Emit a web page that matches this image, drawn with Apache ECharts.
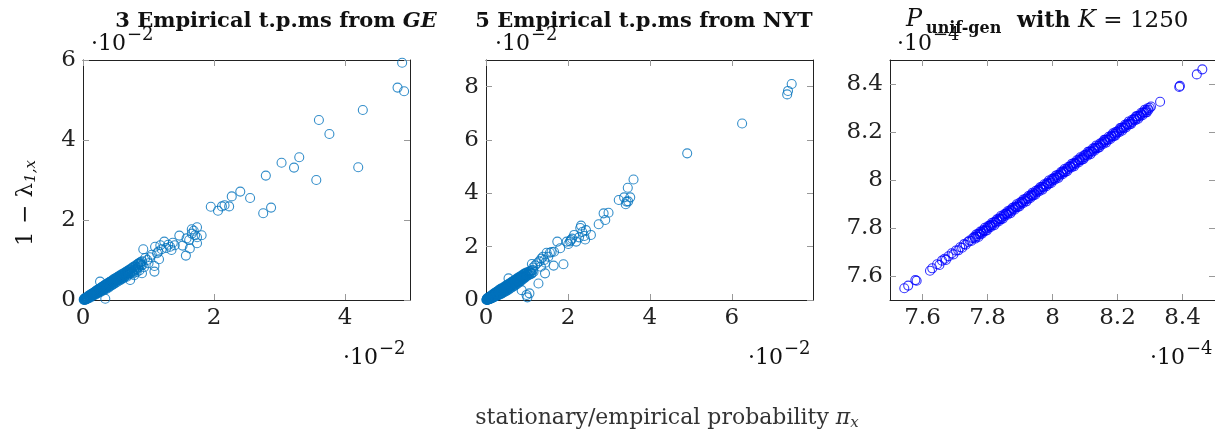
<!DOCTYPE html>
<html>
<head>
<meta charset="utf-8">
<script src="https://cdn.jsdelivr.net/npm/echarts@6/dist/echarts.min.js"></script>
<style>
  html, body { margin: 0; padding: 0; background: #fff; }
  #chart { width: 1215px; height: 431px; }
</style>
</head>
<body>
<div id="chart"></div>
<script>
// values, x and y in units of 10^-2 (GE, NYT) and 10^-4 (unif-gen)
const gePoints = [
  [4.87, 5.93], [4.80, 5.31], [4.90, 5.22], [4.27, 4.75], [3.60, 4.50], [3.76, 4.15],
  [4.20, 3.32], [3.56, 3.00], [3.30, 3.57], [3.22, 3.31], [3.03, 3.43], [2.79, 3.11],
  [2.87, 2.31], [2.75, 2.17], [2.55, 2.55], [2.40, 2.71], [2.27, 2.59], [2.23, 2.34],
  [2.16, 2.37], [2.12, 2.34], [2.06, 2.23], [1.95, 2.33], [1.81, 1.62], [1.74, 1.82],
  [1.66, 1.77], [1.71, 1.62], [1.74, 1.57], [1.74, 1.42], [1.63, 1.29], [1.57, 1.11],
  [1.58, 1.54], [1.47, 1.61], [1.40, 1.37], [1.37, 1.43], [1.35, 1.25], [1.24, 1.46],
  [1.18, 1.37], [1.10, 1.33], [1.15, 1.21], [1.09, 0.85], [1.09, 0.71], [1.02, 1.07],
  [0.92, 1.27], [0.98, 1.00], [0.90, 0.67], [0.85, 0.92], [1.30, 1.38], [1.27, 1.30],
  [1.20, 1.27], [1.13, 1.17], [1.05, 1.13], [1.00, 0.92], [0.95, 1.05], [0.88, 0.95],
  [0.93, 0.82], [1.16, 1.02], [1.66, 1.66], [1.69, 1.73], [1.52, 1.36], [1.33, 1.33],
  [1.62, 1.50], [0.72, 0.50], [0.78, 0.62], [0.82, 0.70]
];
const geBand = [
  [0.01, 0.01], [0.02, 0.00], [0.02, 0.03], [0.03, 0.02], [0.04, 0.01], [0.04, 0.04],
  [0.05, 0.06], [0.06, 0.03], [0.06, 0.05], [0.07, 0.08], [0.08, 0.05], [0.08, 0.10],
  [0.09, 0.07], [0.10, 0.12], [0.10, 0.08], [0.11, 0.10], [0.12, 0.14], [0.12, 0.09],
  [0.13, 0.12], [0.14, 0.16], [0.14, 0.11], [0.15, 0.14], [0.16, 0.18], [0.16, 0.13],
  [0.17, 0.16], [0.18, 0.20], [0.18, 0.14], [0.19, 0.18], [0.20, 0.23], [0.20, 0.16],
  [0.21, 0.20], [0.22, 0.25], [0.22, 0.18], [0.23, 0.22], [0.24, 0.27], [0.24, 0.20],
  [0.25, 0.24], [0.26, 0.46], [0.26, 0.29], [0.26, 0.22], [0.27, 0.26], [0.28, 0.31],
  [0.28, 0.23], [0.29, 0.28], [0.30, 0.33], [0.30, 0.25], [0.31, 0.30], [0.32, 0.36],
  [0.32, 0.27], [0.33, 0.32], [0.34, 0.03], [0.34, 0.38], [0.34, 0.29], [0.35, 0.34],
  [0.36, 0.40], [0.36, 0.31], [0.37, 0.36], [0.38, 0.42], [0.38, 0.33], [0.39, 0.38],
  [0.40, 0.44], [0.40, 0.34], [0.42, 0.46], [0.42, 0.40], [0.43, 0.36], [0.44, 0.48],
  [0.45, 0.43], [0.46, 0.39], [0.46, 0.51], [0.48, 0.46], [0.48, 0.53], [0.49, 0.42],
  [0.50, 0.55], [0.51, 0.49], [0.52, 0.45], [0.53, 0.58], [0.54, 0.52], [0.55, 0.48],
  [0.56, 0.61], [0.57, 0.55], [0.58, 0.51], [0.59, 0.64], [0.60, 0.58], [0.62, 0.67],
  [0.62, 0.55], [0.63, 0.61], [0.65, 0.70], [0.66, 0.64], [0.67, 0.58], [0.68, 0.73],
  [0.69, 0.67], [0.71, 0.76], [0.72, 0.70], [0.74, 0.79], [0.75, 0.72], [0.76, 0.66],
  [0.77, 0.83], [0.78, 0.76], [0.80, 0.86], [0.81, 0.78], [0.83, 0.89], [0.84, 0.81],
  [0.86, 0.74], [0.87, 0.93], [0.89, 0.86],
  [0.03, 0.05], [0.05, 0.02], [0.07, 0.03], [0.09, 0.11], [0.11, 0.06], [0.13, 0.15],
  [0.15, 0.10], [0.17, 0.19], [0.19, 0.13], [0.21, 0.24], [0.23, 0.17], [0.25, 0.28],
  [0.27, 0.20], [0.29, 0.33], [0.31, 0.24], [0.33, 0.37], [0.35, 0.27], [0.37, 0.41],
  [0.39, 0.31], [0.41, 0.45], [0.43, 0.44], [0.44, 0.38], [0.47, 0.50], [0.47, 0.41],
  [0.50, 0.47], [0.52, 0.56], [0.53, 0.50], [0.55, 0.59], [0.57, 0.52], [0.58, 0.62],
  [0.60, 0.54], [0.61, 0.65], [0.63, 0.57], [0.64, 0.68], [0.66, 0.60], [0.67, 0.71],
  [0.69, 0.63], [0.70, 0.74], [0.72, 0.66], [0.73, 0.77], [0.75, 0.69], [0.76, 0.81],
  [0.79, 0.73], [0.80, 0.83], [0.82, 0.76], [0.84, 0.90], [0.85, 0.83], [0.88, 0.90],
  [0.90, 0.97], [0.91, 0.88]
];
const geCore = [
  [0.015, 0.02], [0.025, 0.01], [0.035, 0.04], [0.045, 0.03], [0.055, 0.04], [0.065, 0.07],
  [0.075, 0.06], [0.085, 0.08], [0.095, 0.09], [0.105, 0.10], [0.115, 0.12], [0.125, 0.11],
  [0.135, 0.13], [0.145, 0.14], [0.155, 0.16], [0.165, 0.15], [0.175, 0.17], [0.185, 0.19],
  [0.195, 0.20], [0.205, 0.19], [0.215, 0.22], [0.225, 0.21], [0.235, 0.24], [0.245, 0.23],
  [0.255, 0.26], [0.265, 0.25], [0.275, 0.28], [0.285, 0.27], [0.295, 0.30], [0.305, 0.29],
  [0.315, 0.32], [0.325, 0.31], [0.335, 0.34], [0.345, 0.33], [0.355, 0.36], [0.365, 0.35],
  [0.375, 0.38], [0.385, 0.37], [0.395, 0.40], [0.405, 0.39], [0.415, 0.42], [0.425, 0.41],
  [0.435, 0.44], [0.445, 0.43], [0.455, 0.46], [0.465, 0.45], [0.475, 0.48], [0.485, 0.47],
  [0.495, 0.50], [0.505, 0.49], [0.515, 0.52], [0.525, 0.51], [0.535, 0.54], [0.545, 0.53],
  [0.555, 0.56], [0.565, 0.55], [0.575, 0.58], [0.585, 0.57], [0.595, 0.60], [0.61, 0.60],
  [0.625, 0.63], [0.64, 0.62], [0.655, 0.66], [0.67, 0.65], [0.685, 0.69], [0.70, 0.70]
];
const nytPoints = [
  [7.46, 8.10], [7.37, 7.84], [7.35, 7.71], [6.25, 6.62], [4.91, 5.50], [3.60, 4.52],
  [3.46, 4.21], [3.52, 3.85], [3.37, 3.85], [3.24, 3.75], [3.41, 3.59], [3.43, 3.69],
  [2.99, 3.27], [2.87, 3.25], [2.91, 3.00], [2.75, 2.84], [2.56, 2.44], [2.44, 2.62],
  [2.32, 2.79], [2.42, 2.27], [2.40, 2.40], [2.20, 2.19], [2.15, 2.44], [2.07, 2.25],
  [2.01, 2.10], [1.97, 2.19], [1.74, 2.19], [1.89, 1.34], [1.81, 1.94], [1.66, 1.81],
  [1.56, 1.77], [1.48, 1.77], [1.65, 1.29], [1.42, 1.50], [1.39, 1.62], [1.44, 1.00],
  [1.34, 1.25], [1.28, 0.62], [1.12, 1.35], [1.06, 0.25], [1.01, 0.10], [0.87, 0.37],
  [0.99, 0.19], [0.55, 0.81], [1.20, 1.30], [1.25, 1.38], [1.15, 1.22], [1.30, 1.45],
  [1.35, 1.55], [1.45, 1.40], [1.52, 1.62], [1.60, 1.80], [2.30, 2.70], [2.35, 2.55],
  [2.27, 2.35], [2.10, 2.30], [3.47, 3.70], [2.05, 2.20]
];
const nytBand = [
  [0.01, 0.01], [0.02, 0.02], [0.03, 0.00], [0.03, 0.04], [0.04, 0.02], [0.05, 0.05],
  [0.06, 0.03], [0.06, 0.08], [0.07, 0.05], [0.08, 0.10], [0.09, 0.06], [0.10, 0.12],
  [0.10, 0.04], [0.11, 0.09], [0.12, 0.15], [0.13, 0.07], [0.14, 0.12], [0.15, 0.18],
  [0.16, 0.09], [0.17, 0.14], [0.18, 0.21], [0.19, 0.11], [0.20, 0.17], [0.21, 0.24],
  [0.22, 0.13], [0.23, 0.19], [0.24, 0.27], [0.25, 0.15], [0.26, 0.22], [0.27, 0.30],
  [0.28, 0.17], [0.29, 0.25], [0.30, 0.33], [0.31, 0.19], [0.32, 0.28], [0.33, 0.36],
  [0.34, 0.21], [0.35, 0.30], [0.36, 0.39], [0.37, 0.23], [0.38, 0.33], [0.39, 0.42],
  [0.40, 0.26], [0.41, 0.36], [0.42, 0.45], [0.44, 0.29], [0.45, 0.39], [0.46, 0.49],
  [0.48, 0.32], [0.49, 0.43], [0.50, 0.53], [0.52, 0.36], [0.53, 0.47], [0.54, 0.57],
  [0.56, 0.40], [0.57, 0.51], [0.58, 0.61], [0.60, 0.44], [0.61, 0.55], [0.62, 0.65],
  [0.64, 0.48], [0.65, 0.59], [0.66, 0.69], [0.68, 0.52], [0.69, 0.63], [0.70, 0.73],
  [0.72, 0.56], [0.73, 0.67], [0.74, 0.77], [0.76, 0.60], [0.77, 0.71], [0.78, 0.81],
  [0.80, 0.65], [0.81, 0.75], [0.82, 0.85], [0.84, 0.70], [0.85, 0.79], [0.86, 0.89],
  [0.88, 0.75], [0.89, 0.84], [0.90, 0.93], [0.92, 0.80], [0.93, 0.88], [0.94, 0.97],
  [0.96, 0.85], [0.97, 0.92], [0.98, 1.01], [1.00, 0.90], [1.02, 0.98], [1.04, 1.05],
  [1.06, 0.95], [1.08, 1.03], [1.10, 1.10], [1.12, 1.00],
  [0.02, 0.05], [0.04, 0.07], [0.05, 0.01], [0.07, 0.10], [0.08, 0.03], [0.09, 0.13],
  [0.11, 0.05], [0.12, 0.12], [0.14, 0.18], [0.15, 0.08], [0.17, 0.21], [0.18, 0.10],
  [0.20, 0.25], [0.21, 0.13], [0.23, 0.28], [0.24, 0.16], [0.26, 0.31], [0.27, 0.18],
  [0.29, 0.34], [0.30, 0.21], [0.32, 0.38], [0.33, 0.24], [0.35, 0.41], [0.36, 0.27],
  [0.38, 0.44], [0.40, 0.31], [0.42, 0.39], [0.43, 0.48], [0.45, 0.33], [0.47, 0.52],
  [0.48, 0.40], [0.50, 0.37], [0.51, 0.56], [0.53, 0.42], [0.55, 0.60], [0.56, 0.46],
  [0.59, 0.64], [0.60, 0.50], [0.63, 0.68], [0.64, 0.54], [0.67, 0.72], [0.68, 0.58],
  [0.71, 0.76], [0.72, 0.62], [0.75, 0.80], [0.76, 0.66], [0.79, 0.84], [0.80, 0.70],
  [0.83, 0.88], [0.84, 0.74], [0.87, 0.92], [0.88, 0.79], [0.91, 0.96], [0.92, 0.84],
  [0.95, 1.00], [0.97, 0.88], [1.00, 1.04], [1.03, 0.93], [1.07, 1.08], [1.10, 0.98],
  [1.14, 1.12], [1.16, 1.05]
];
const nytCore = [
  [0.015, 0.01], [0.025, 0.03], [0.035, 0.02], [0.045, 0.04], [0.055, 0.03], [0.065, 0.06],
  [0.075, 0.07], [0.085, 0.06], [0.095, 0.09], [0.105, 0.08], [0.115, 0.11], [0.125, 0.10],
  [0.135, 0.13], [0.145, 0.11], [0.155, 0.14], [0.165, 0.13], [0.175, 0.16], [0.185, 0.15],
  [0.195, 0.18], [0.205, 0.16], [0.215, 0.19], [0.225, 0.18], [0.235, 0.21], [0.245, 0.20],
  [0.255, 0.23], [0.265, 0.21], [0.275, 0.25], [0.285, 0.23], [0.295, 0.27], [0.305, 0.25],
  [0.315, 0.29], [0.325, 0.27], [0.335, 0.30], [0.345, 0.28], [0.355, 0.32], [0.365, 0.30],
  [0.375, 0.34], [0.385, 0.32], [0.395, 0.36], [0.405, 0.34], [0.415, 0.38], [0.425, 0.36],
  [0.435, 0.40], [0.445, 0.38], [0.455, 0.42], [0.465, 0.40], [0.475, 0.44], [0.49, 0.45],
  [0.51, 0.47], [0.53, 0.49], [0.55, 0.51], [0.57, 0.53], [0.59, 0.55], [0.61, 0.57],
  [0.63, 0.59], [0.65, 0.61], [0.67, 0.63], [0.69, 0.66], [0.71, 0.68], [0.73, 0.70],
  [0.75, 0.72], [0.77, 0.74], [0.79, 0.76], [0.81, 0.78], [0.83, 0.80], [0.85, 0.82],
  [0.87, 0.84], [0.89, 0.86], [0.91, 0.88], [0.93, 0.90], [0.95, 0.92]
];
// unif-gen: the sparse ends of the line
const unifEnds = [
  [7.544, 7.549], [7.556, 7.560], [7.578, 7.583], [7.582, 7.580], [7.623, 7.622], [7.630, 7.632],
  [7.645, 7.649], [7.652, 7.646], [7.660, 7.664], [7.668, 7.672], [7.672, 7.667], [7.680, 7.682],
  [7.690, 7.695], [7.695, 7.690], [7.703, 7.706], [7.710, 7.707], [7.716, 7.720], [7.722, 7.718],
  [7.728, 7.733], [7.733, 7.730], [7.740, 7.742], [7.745, 7.748], [7.750, 7.746], [7.755, 7.758],
  [8.303, 8.306], [8.331, 8.326], [8.392, 8.392], [8.390, 8.388], [8.444, 8.440], [8.461, 8.461]
];
// unif-gen: the dense thick band in the middle
const unifBand = [
  [7.760, 7.763], [7.762, 7.756], [7.765, 7.773], [7.766, 7.765], [7.770, 7.775], [7.772, 7.763],
  [7.775, 7.777], [7.777, 7.773], [7.778, 7.785], [7.781, 7.781], [7.783, 7.776], [7.787, 7.791],
  [7.789, 7.787], [7.792, 7.801], [7.794, 7.789], [7.797, 7.798], [7.798, 7.790], [7.802, 7.808],
  [7.804, 7.801], [7.807, 7.809], [7.809, 7.812], [7.810, 7.804], [7.813, 7.821], [7.815, 7.814],
  [7.819, 7.824], [7.821, 7.812], [7.824, 7.826], [7.826, 7.822], [7.829, 7.836], [7.830, 7.830],
  [7.834, 7.827], [7.836, 7.840], [7.839, 7.837], [7.841, 7.850], [7.842, 7.837], [7.845, 7.846],
  [7.847, 7.839], [7.851, 7.857], [7.853, 7.850], [7.856, 7.858], [7.858, 7.861], [7.861, 7.855],
  [7.862, 7.870], [7.866, 7.865], [7.868, 7.873], [7.871, 7.862], [7.873, 7.875], [7.874, 7.870],
  [7.877, 7.884], [7.879, 7.879], [7.883, 7.876], [7.885, 7.889], [7.888, 7.886], [7.890, 7.899],
  [7.893, 7.888], [7.894, 7.895], [7.898, 7.890], [7.900, 7.906], [7.903, 7.900], [7.905, 7.907],
  [7.906, 7.909], [7.909, 7.903], [7.911, 7.919], [7.915, 7.914], [7.917, 7.922], [7.920, 7.911],
  [7.922, 7.924], [7.925, 7.921], [7.926, 7.933], [7.930, 7.930], [7.932, 7.925], [7.935, 7.939],
  [7.937, 7.935], [7.938, 7.947], [7.941, 7.936], [7.943, 7.944], [7.947, 7.939], [7.949, 7.955],
  [7.952, 7.949], [7.954, 7.956], [7.957, 7.960], [7.958, 7.952], [7.962, 7.970], [7.964, 7.963],
  [7.967, 7.972], [7.969, 7.960], [7.970, 7.972], [7.973, 7.969], [7.975, 7.982], [7.979, 7.979],
  [7.981, 7.974], [7.984, 7.988], [7.986, 7.984], [7.989, 7.998], [7.990, 7.985], [7.994, 7.995],
  [7.996, 7.988], [7.999, 8.005], [8.001, 7.998], [8.002, 8.004], [8.005, 8.008], [8.007, 8.001],
  [8.011, 8.019], [8.013, 8.012], [8.016, 8.021], [8.018, 8.009], [8.021, 8.023], [8.022, 8.018],
  [8.026, 8.033], [8.028, 8.028], [8.031, 8.024], [8.033, 8.037], [8.034, 8.032], [8.037, 8.046],
  [8.039, 8.034], [8.043, 8.044], [8.045, 8.037], [8.048, 8.054], [8.050, 8.047], [8.053, 8.055],
  [8.054, 8.057], [8.058, 8.052], [8.060, 8.068], [8.063, 8.062], [8.065, 8.070], [8.066, 8.057],
  [8.069, 8.071], [8.071, 8.067], [8.075, 8.082], [8.077, 8.077], [8.080, 8.073], [8.082, 8.086],
  [8.085, 8.083], [8.086, 8.095], [8.090, 8.085], [8.092, 8.093], [8.095, 8.087], [8.097, 8.103],
  [8.098, 8.095], [8.101, 8.103], [8.103, 8.106], [8.107, 8.101], [8.109, 8.117], [8.112, 8.111],
  [8.114, 8.119], [8.117, 8.108], [8.118, 8.120], [8.122, 8.118], [8.124, 8.131], [8.127, 8.127],
  [8.129, 8.122], [8.130, 8.134], [8.133, 8.131], [8.135, 8.144], [8.139, 8.134], [8.141, 8.142],
  [8.144, 8.136], [8.146, 8.152], [8.149, 8.146], [8.150, 8.152], [8.154, 8.157], [8.156, 8.150],
  [8.159, 8.167], [8.161, 8.160], [8.162, 8.167], [8.165, 8.156], [8.167, 8.169], [8.171, 8.167],
  [8.173, 8.180], [8.176, 8.176], [8.178, 8.171], [8.181, 8.185], [8.182, 8.180], [8.186, 8.195],
  [8.188, 8.183], [8.191, 8.192], [8.193, 8.185], [8.194, 8.200], [8.197, 8.194], [8.199, 8.201],
  [8.203, 8.206], [8.205, 8.199], [8.208, 8.216], [8.210, 8.209], [8.213, 8.218], [8.214, 8.205],
  [8.218, 8.220], [8.220, 8.216], [8.223, 8.230], [8.225, 8.225], [8.226, 8.219], [8.229, 8.233],
  [8.231, 8.229], [8.235, 8.244], [8.237, 8.232], [8.240, 8.241], [8.242, 8.234], [8.245, 8.251],
  [8.246, 8.243], [8.250, 8.252], [8.252, 8.255], [8.255, 8.249], [8.257, 8.265], [8.258, 8.257],
  [8.261, 8.266], [8.263, 8.254], [8.267, 8.269], [8.269, 8.265], [8.272, 8.279], [8.274, 8.274],
  [8.277, 8.270], [8.278, 8.282], [8.282, 8.280], [8.284, 8.293], [8.287, 8.282], [8.289, 8.290],
  [8.290, 8.282], [8.293, 8.299], [8.295, 8.292], [8.299, 8.301]
];
// tick labels per panel
const geXTicks = [0, 2, 4];
const geYTicks = [0, 2, 4, 6];
const nytXTicks = [0, 2, 4, 6, 8];
const nytYTicks = [0, 2, 4, 6, 8];
const unifTicks = [7.6, 7.8, 8, 8.2, 8.4];

const SERIF = "DejaVu Serif";
const chart = echarts.init(document.getElementById("chart"));

const grids = [
  { left: 83, top: 60, width: 327, height: 240 },
  { left: 486, top: 60, width: 327, height: 240 },
  { left: 890, top: 60, width: 326, height: 240 },
];
const ranges = [
  { x: [0, 4.99], y: [0, 6], xt: geXTicks, yt: geYTicks },
  { x: [0, 7.98], y: [0, 9], xt: nytXTicks, yt: nytYTicks },
  { x: [7.5, 8.5], y: [7.5, 8.5], xt: unifTicks, yt: unifTicks },
];

const mkAxis = (i, range, ticks, position, labels) => ({
  type: "value",
  gridIndex: i,
  position: position,
  min: range[0],
  max: range[1],
  splitLine: { show: false },
  axisLine: { show: true, onZero: false, lineStyle: { color: "#222", width: 1 } },
  axisTick: { show: true, inside: true, length: 6, customValues: ticks, lineStyle: { color: "#999" } },
  axisLabel: {
    show: labels,
    customValues: ticks,
    margin: 7,
    fontFamily: SERIF,
    fontSize: 23,
    color: "#222",
    formatter: (v) => String(+v.toFixed(1)),
  },
});

const xAxes = [], yAxes = [];
ranges.forEach((r, i) => xAxes.push(mkAxis(i, r.x, r.xt, "bottom", true)));
ranges.forEach((r, i) => xAxes.push(mkAxis(i, r.x, r.xt, "top", false)));
ranges.forEach((r, i) => yAxes.push(mkAxis(i, r.y, r.yt, "left", true)));
ranges.forEach((r, i) => yAxes.push(mkAxis(i, r.y, r.yt, "right", false)));

const mkSeries = (i, data, color) => ({
  type: "scatter",
  xAxisIndex: i,
  yAxisIndex: i,
  data: data,
  symbol: "circle",
  symbolSize: 9,
  silent: true,
  itemStyle: { color: "rgba(0,0,0,0)", borderColor: color, borderWidth: 1.1 },
});

const txt = (x, y, text, opts) => ({
  type: "text",
  x: x,
  y: y,
  silent: true,
  rotation: (opts && opts.rotation) || 0,
  style: Object.assign({
    text: text,
    fill: "#111",
    font: "23px '" + SERIF + "'",
    align: "left",
    verticalAlign: "middle",
    textAlign: "left",
    textVerticalAlign: "middle",
  }, opts && opts.style),
});

// ·10^e marker: base plus superscript
const expMark = (x, y, e) => [
  txt(x, y, "·10", { style: { font: "22px '" + SERIF + "'" } }),
  txt(x + 36, y - 9, "−" + e, { style: { font: "18px '" + SERIF + "'" } }),
];

const bold = "bold 21px '" + SERIF + "'";
const graphics = [
  txt(276, 22, "{b|3 Empirical t.p.ms from }{bi|GE}", {
    style: { align: "center", textAlign: "center",
      rich: { b: { font: bold, fill: "#111" }, bi: { font: "italic " + bold, fill: "#111" } } },
  }),
  txt(644, 22, "5 Empirical t.p.ms from NYT", { style: { font: bold, align: "center", textAlign: "center" } }),
  txt(906, 20, "P", { style: { font: "italic 24px '" + SERIF + "'" } }),
  txt(926, 29, "unif-gen", { style: { font: "bold 16px '" + SERIF + "'" } }),
  txt(1017, 21, "{b|with }{i|K}{n| = 1250}", {
    style: { rich: {
      b: { font: "bold 22px '" + SERIF + "'", fill: "#111" },
      i: { font: "italic 24px '" + SERIF + "'", fill: "#111" },
      n: { font: "23px '" + SERIF + "'", fill: "#111" },
    } },
  }),
  ...expMark(91, 44, 2),
  ...expMark(495, 44, 2),
  ...expMark(897, 44, 4),
  ...expMark(343, 358, 2),
  ...expMark(748, 358, 2),
  ...expMark(1150, 358, 4),
  txt(26, 203, "{a|1 − λ}{s|1,x}", {
    rotation: Math.PI / 2,
    style: { align: "center", textAlign: "center", rich: {
      a: { font: "23px '" + SERIF + "'", fill: "#111", lineHeight: 26 },
      s: { font: "italic 15px '" + SERIF + "'", fill: "#111", lineHeight: 26, verticalAlign: "bottom" },
    } },
  }),
  txt(667, 418, "{a|stationary/empirical probability }{p|π}{s|x}", {
    style: { align: "center", textAlign: "center", rich: {
      a: { font: "22px '" + SERIF + "'", fill: "#333", lineHeight: 26 },
      p: { font: "italic 22px '" + SERIF + "'", fill: "#333", lineHeight: 26 },
      s: { font: "italic 15px '" + SERIF + "'", fill: "#333", lineHeight: 26, verticalAlign: "bottom" },
    } },
  }),
];

const option = {
  animation: false,
  backgroundColor: "#fff",
  grid: grids,
  xAxis: xAxes,
  yAxis: yAxes,
  series: [
    mkSeries(0, gePoints.concat(geBand, geCore), "#0072BD"),
    mkSeries(1, nytPoints.concat(nytBand, nytCore), "#0072BD"),
    mkSeries(2, unifEnds.concat(unifBand), "#0000FF"),
  ],
  graphic: graphics,
};
chart.setOption(option);
</script>
</body>
</html>
